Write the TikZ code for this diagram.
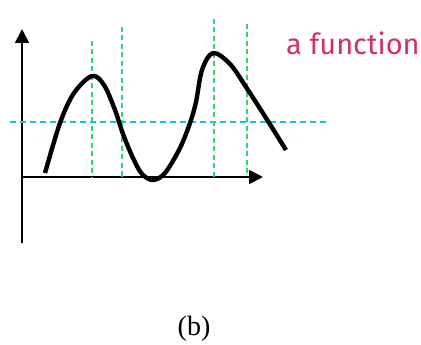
\documentclass[tikz,border=0pt]{standalone}
\usepackage{fontspec}
\setmainfont{Liberation Serif}
\newfontfamily\labfont{Fira Sans}
\usetikzlibrary{arrows.meta}
\definecolor{gline}{RGB}{46,214,120}
\definecolor{cline}{RGB}{30,190,215}
\definecolor{pinkt}{RGB}{205,50,105}
\tikzset{
  axis/.style={line width=1.8pt,-{Triangle[length=14pt,width=14pt]}},
  gdash/.style={gline,line width=2.4pt,dash pattern=on 5pt off 3.5pt},
  cdash/.style={cline,line width=2.2pt,dash pattern=on 6pt off 4pt},
  curve/.style={line width=4.4pt,line join=round}
}
\begin{document}
\begin{tikzpicture}[x=1pt,y=-1pt]
\useasboundingbox (0,0) rectangle (421,345);
\coordinate (ybot) at (22,243);
\coordinate (ytop) at (22,29);
\coordinate (xl) at (22,177);
\coordinate (xr) at (263,177);
\draw[axis] (ybot) -- (ytop);
\draw[axis] (xl) -- (xr);
% cyan
\coordinate (c1) at (10,122);
\coordinate (c2) at (326,122);
\draw[cdash] (c1) -- (c2);
% green verticals
\coordinate (g1t) at (92,41); \coordinate (g1b) at (92,178);
\coordinate (g2t) at (122,27); \coordinate (g2b) at (122,177);
\coordinate (g3t) at (214,19); \coordinate (g3b) at (214,177);
\coordinate (g4t) at (247,24); \coordinate (g4b) at (247,176);
\draw[gdash] (g1t) -- (g1b);
\draw[gdash] (g2t) -- (g2b);
\draw[gdash] (g3t) -- (g3b);
\draw[gdash] (g4t) -- (g4b);
% curve
\draw[curve] plot[smooth,tension=0.55] coordinates {(45,173) (60,123) (74,93) (92,76) (104,85) (115,110) (123,134) (133,158) (142,174) (153,180) (165,173) (180,148) (190,123) (196,102) (202,70) (213,53) (230,64) (246,87) (266,118) (286,150)};
\node[text=pinkt,font=\labfont\fontsize{29}{29}\selectfont,anchor=base west,inner sep=0pt] (lab) at (286,55) {a function};
\node[font=\fontsize{28}{28}\selectfont,inner sep=0pt] (cap) at (194,329) {(b)};
\end{tikzpicture}
\end{document}
